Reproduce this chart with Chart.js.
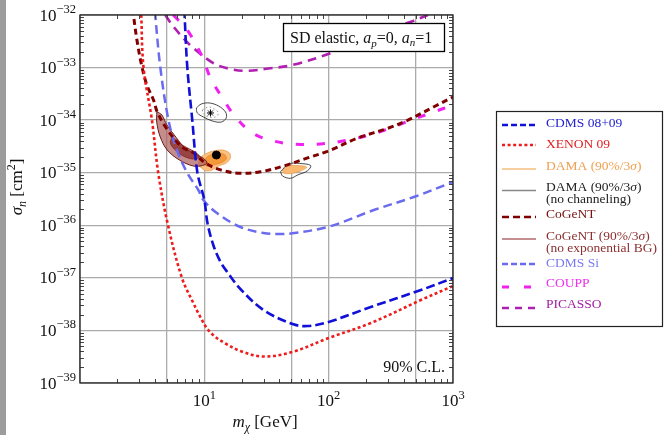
<!DOCTYPE html>
<html>
<head>
<meta charset="utf-8">
<script src="https://cdn.jsdelivr.net/npm/chart.js@4.4.1/dist/chart.umd.min.js"></script>
<style>
  html, body { margin: 0; padding: 0; background: #fff; }
  #wrap { position: relative; width: 665px; height: 435px; }
</style>
</head>
<body>
<div id="wrap"><canvas id="limits" width="665" height="435"></canvas></div>
<script>
// axes
const xGridVals = [1, 5, 10, 50, 100, 500, 1000];
const xLabelVals = [10, 100, 1000];
const yDecades = [-39, -38, -37, -36, -35, -34, -33, -32];

// exclusion limits: WIMP mass [GeV] -> sigma_n [cm^2]
const cdmsMass = [6.9, 7.29, 8.0, 8.78, 10.0, 10.6, 11.8, 13.5, 15.3, 19.5, 29.9, 51.3, 67.7, 100, 218, 552, 1000];
const cdmsSigma = [1.3e-32, 1.03e-33, 1.0e-34, 1.03e-35, 3.03e-36, 1.10e-36, 4.22e-37, 2.0e-37, 1.29e-37, 6.14e-38, 2.45e-38, 1.32e-38, 1.21e-38, 1.45e-38, 2.79e-38, 5.87e-38, 9.9e-38];

const xenonMass = [3.1, 3.24, 3.79, 4.26, 5.10, 6.61, 8.15, 9.29, 10.6, 12.3, 14.8, 19.5, 29.9, 51, 100, 218, 552, 1000];
const xenonSigma = [1.3e-32, 1.03e-33, 1.0e-34, 9.9e-36, 1.01e-36, 9.9e-38, 3.33e-38, 1.80e-38, 1.06e-38, 7.5e-39, 5.64e-39, 4.06e-39, 3.19e-39, 3.89e-39, 7.18e-39, 1.38e-38, 3.79e-38, 7.0e-38];

const cdmsSiMass = [4.0, 4.42, 5.15, 6.02, 7.29, 8.95, 9.82, 12.7, 19.5, 29.9, 39.5, 51, 100, 231, 484, 1000];
const cdmsSiSigma = [1.2e-32, 1.03e-33, 1.0e-34, 2.70e-35, 9.9e-36, 4.69e-36, 3.03e-36, 1.69e-36, 9.27e-37, 7.13e-37, 6.83e-37, 7.04e-37, 9.4e-37, 1.95e-36, 3.45e-36, 6.66e-36];

const cogentMass = [2.65, 2.87, 3.15, 3.45, 3.90, 4.18, 4.94, 5.84, 6.77, 8.0, 10.2, 13.5, 19.5, 28.3, 43.4, 67.7, 104, 171, 299, 434, 703, 1000];
const cogentSigma = [1.3e-32, 3.34e-33, 1.03e-33, 4.66e-34, 2.42e-34, 1.43e-34, 7.08e-35, 4.19e-35, 2.95e-35, 2.48e-35, 1.53e-35, 1.13e-35, 9.75e-36, 1.04e-35, 1.34e-35, 1.91e-35, 2.70e-35, 4.57e-35, 7.0e-35, 1.0e-34, 1.8e-34, 2.75e-34];

const couppMass = [5.62, 7.29, 9.64, 11.2, 14.0, 17.8, 24.4, 36.0, 55.2, 86.1, 130, 199, 299, 442, 665, 1000];
const couppSigma = [1.0e-32, 5.18e-33, 1.59e-33, 6.33e-34, 2.64e-34, 1.15e-34, 5.69e-35, 4.01e-35, 3.47e-35, 3.52e-35, 4.01e-35, 4.99e-35, 6.78e-35, 9.64e-35, 1.37e-34, 1.94e-34];

const picassoMass = [4.85, 5.52, 6.65, 8.0, 11.8, 16.2, 22.2, 34.1, 51.3, 104, 192, 459, 629];
const picassoSigma = [1.0e-32, 6.45e-33, 3.82e-33, 2.46e-33, 1.22e-33, 9.4e-34, 8.7e-34, 9.7e-34, 1.12e-33, 1.89e-33, 3.65e-33, 7.46e-33, 1.0e-32];

// allowed regions (closed contours)
const cogentOuterMass = [4.15, 4.56, 5.0, 5.94, 7.03, 8.73, 9.82, 10.5, 9.64, 8.15, 6.29, 5.03, 4.42, 4.14, 4.15];
const cogentOuterSigma = [1.45e-34, 1.25e-34, 8.09e-35, 4.68e-35, 2.91e-35, 2.17e-35, 1.88e-35, 1.53e-35, 1.37e-35, 1.34e-35, 1.75e-35, 2.70e-35, 4.78e-35, 9.2e-35, 1.45e-34];
const cogentInnerMass = [5.52, 6.65, 8.15, 9.12, 8.46, 7.03, 5.94, 5.32, 5.52];
const cogentInnerSigma = [4.78e-35, 3.37e-35, 2.59e-35, 2.08e-35, 1.82e-35, 1.99e-35, 2.59e-35, 3.67e-35, 4.78e-35];

const damaOuterMass = [8.95, 9.29, 10.2, 11.8, 14.0, 15.9, 16.2, 15.0, 13.0, 11.6, 10.4, 9.46, 8.95];
const damaOuterSigma = [1.47e-35, 1.91e-35, 2.27e-35, 2.59e-35, 2.70e-35, 2.37e-35, 1.91e-35, 1.53e-35, 1.34e-35, 1.13e-35, 1.08e-35, 1.23e-35, 1.47e-35];
const damaInnerMass = [9.82, 10.8, 12.5, 14.5, 15.0, 13.5, 11.6, 10.4, 9.82];
const damaInnerSigma = [1.67e-35, 2.08e-35, 2.37e-35, 2.22e-35, 1.82e-35, 1.53e-35, 1.40e-35, 1.34e-35, 1.67e-35];
const dama2Mass = [42.6, 47.6, 56.2, 66.5, 59.4, 49.4, 43.4, 42.6];
const dama2Sigma = [1.13e-35, 1.34e-35, 1.37e-35, 1.28e-35, 1.08e-35, 9.66e-36, 9.87e-36, 1.13e-35];

const damaNc1Mass = [8.62, 9.46, 11.0, 13.0, 14.8, 15.0, 13.7, 11.6, 9.82, 8.78, 8.62];
const damaNc1Sigma = [1.70e-34, 2.03e-34, 2.12e-34, 1.86e-34, 1.43e-34, 1.10e-34, 9.2e-35, 9.64e-35, 1.15e-34, 1.37e-34, 1.70e-34];
const damaNc1InMass = [9.64, 10.8, 12.0, 13.0, 12.3, 10.8, 9.82, 9.64];
const damaNc1InSigma = [1.56e-34, 1.78e-34, 1.63e-34, 1.37e-34, 1.15e-34, 1.15e-34, 1.31e-34, 1.56e-34];
const damaNc2Mass = [41.0, 47.6, 58.3, 71.6, 67.7, 56.2, 49.4, 42.6, 41.0];
const damaNc2Sigma = [1.04e-35, 1.47e-35, 1.50e-35, 1.37e-35, 1.09e-35, 9.04e-36, 7.83e-36, 8.65e-36, 1.04e-35];

// best fit points
const damaBestMass = [12.5];
const damaBestSigma = [2.17e-35];
const damaNcBestMass = [11.2];
const damaNcBestSigma = [1.37e-34];

const legendLabels = [
    ['CDMS 08+09'], ['XENON 09'], ['DAMA (90%/3σ)'], ['DAMA (90%/3σ)', '(no channeling)'],
    ['CoGeNT'], ['CoGeNT (90%/3σ)', '(no exponential BG)'], ['CDMS Si'], ['COUPP'], ['PICASSO']
];

const SERIF = '"Liberation Serif", "Times New Roman", serif';
const pts = (xs, ys) => xs.map((x, i) => ({ x: x, y: ys[i] }));

function curve(label, xs, ys, color, width, dash) {
    return { label: label, data: pts(xs, ys), borderColor: color, borderWidth: width, borderDash: dash,
        borderCapStyle: 'butt', pointRadius: 0, tension: 0.35, fill: false, order: 1 };
}
function region(label, xs, ys, fillColor, lineColor, width, dash, order) {
    return { label: label, data: pts(xs, ys), backgroundColor: fillColor || 'transparent', borderColor: lineColor,
        borderWidth: width, borderDash: dash || [], pointRadius: 0, tension: 0.35,
        fill: fillColor ? 'shape' : false, order: order };
}

// draws a run of text pieces (for italics, sub/superscripts)
function drawRuns(c, parts, x, y, align) {
    let w = 0;
    parts.forEach(p => { c.font = p.f + ' ' + SERIF; p.w = c.measureText(p.t).width; w += p.w; });
    let cx = align === 'center' ? x - w / 2 : (align === 'right' ? x - w : x);
    c.textAlign = 'left';
    c.textBaseline = 'alphabetic';
    parts.forEach(p => {
        c.font = p.f + ' ' + SERIF;
        c.fillText(p.t, cx, y + (p.dy || 0));
        cx += p.w;
    });
}

const legendStyle = [
    { y: 125, ty: [122], text: '#2222d0', stroke: '#1010d8', w: 2.6, dash: [6, 3] },
    { y: 145, ty: [143], text: '#e02020', stroke: '#ee1c1c', w: 2.6, dash: [3, 2.6] },
    { y: 169, ty: [165], text: '#f0a050', stroke: '#f0a040', w: 1.2, dash: [] },
    { y: 190.5, ty: [186.5, 198], text: '#222222', stroke: '#888888', w: 1.4, dash: [] },
    { y: 217, ty: [213], text: '#7a1010', stroke: '#800000', w: 2.6, dash: [7, 4] },
    { y: 239, ty: [235, 247], text: '#8b3030', stroke: '#8b2020', w: 1.2, dash: [] },
    { y: 264, ty: [262], text: '#7a7aee', stroke: '#6b6bef', w: 2.6, dash: [6, 3] },
    { y: 287, ty: [282], text: '#ee30ee', stroke: '#f020f0', w: 2.8, dash: [7, 15] },
    { y: 308, ty: [303.5], text: '#a020a0', stroke: '#b020b0', w: 2.6, dash: [7, 6] }
];

const decor = {
    id: 'decor',
    beforeDraw(chart) {
        const c = chart.ctx;
        c.save();
        c.fillStyle = '#ffffff';
        c.fillRect(0, 0, chart.width, chart.height);
        c.fillStyle = '#9c9c9c';
        c.fillRect(0, 0, 6, chart.height);
        c.restore();
    },
    afterDatasetsDraw(chart) {
        const c = chart.ctx, a = chart.chartArea, xs = chart.scales.x, ys = chart.scales.y;
        c.save();
        // minor ticks, pointing inwards
        c.strokeStyle = '#444';
        c.lineWidth = 1;
        c.beginPath();
        [1, 10, 100].forEach(d => {
            for (let m = 2; m <= 9; m++) {
                const px = Math.round(xs.getPixelForValue(m * d)) + 0.5;
                c.moveTo(px, a.bottom); c.lineTo(px, a.bottom - 4);
                c.moveTo(px, a.top); c.lineTo(px, a.top + 4);
            }
        });
        yDecades.slice(0, -1).forEach(k => {
            for (let m = 2; m <= 9; m++) {
                const py = Math.round(ys.getPixelForValue(m * Math.pow(10, k))) + 0.5;
                c.moveTo(a.left, py); c.lineTo(a.left + 4, py);
                c.moveTo(a.right, py); c.lineTo(a.right - 4, py);
            }
        });
        c.stroke();
        // frame
        c.strokeStyle = '#222';
        c.lineWidth = 1.3;
        c.strokeRect(a.left, a.top, a.right - a.left, a.bottom - a.top);

        // label box
        c.fillStyle = '#fff';
        c.fillRect(283.5, 23.5, 161, 28);
        c.strokeStyle = '#000';
        c.lineWidth = 1.3;
        c.strokeRect(283.5, 23.5, 161, 28);
        c.fillStyle = '#111';
        drawRuns(c, [
            { t: 'SD elastic, ', f: '16px' }, { t: 'a', f: 'italic 16px' }, { t: 'p', f: 'italic 11px', dy: 4 },
            { t: '=0, ', f: '16px' }, { t: 'a', f: 'italic 16px' }, { t: 'n', f: 'italic 11px', dy: 3 },
            { t: '=1', f: '16px' }
        ], 290, 42.5, 'left');
        drawRuns(c, [{ t: '90% C.L.', f: '16px' }], 445, 372, 'right');
        c.restore();
    },
    afterDraw(chart) {
        const c = chart.ctx, xs = chart.scales.x, ys = chart.scales.y;
        c.save();
        c.fillStyle = '#111';
        // tick labels
        yDecades.forEach(k => {
            const py = ys.getPixelForValue(Math.pow(10, k));
            drawRuns(c, [{ t: '10', f: '17px' }, { t: '\u2212' + Math.abs(k), f: '12.5px', dy: -7.5 }], 76, py + 5.5, 'right');
        });
        xLabelVals.forEach(v => {
            const px = xs.getPixelForValue(v);
            drawRuns(c, [{ t: '10', f: '17px' }, { t: String(Math.round(Math.log10(v))), f: '12.5px', dy: -7.5 }], px, 406, 'center');
        });
        // axis titles
        drawRuns(c, [{ t: 'm', f: 'italic 17px' }, { t: 'χ', f: 'italic 12px', dy: 4 }, { t: ' [GeV]', f: '17px' }], 265, 427, 'center');
        c.save();
        c.translate(22, 187);
        c.rotate(-Math.PI / 2);
        drawRuns(c, [{ t: 'σ', f: 'italic 17px' }, { t: 'n', f: 'italic 12px', dy: 4 }, { t: ' [cm', f: '17px' },
            { t: '2', f: '12px', dy: -7 }, { t: ']', f: '17px' }], 0, 0, 'center');
        c.restore();

        // legend
        c.fillStyle = '#fff';
        c.fillRect(496.5, 111.5, 166, 215);
        c.strokeStyle = '#222';
        c.lineWidth = 1.2;
        c.strokeRect(496.5, 111.5, 166, 215);
        legendStyle.forEach((s, i) => {
            c.strokeStyle = s.stroke;
            c.lineWidth = s.w;
            c.setLineDash(s.dash);
            c.beginPath();
            c.moveTo(502, s.y); c.lineTo(536, s.y);
            c.stroke();
            c.setLineDash([]);
            c.fillStyle = s.text;
            legendLabels[i].forEach((line, j) => {
                const parts = [];
                line.split('σ').forEach((chunk, n) => {
                    if (n > 0) parts.push({ t: 'σ', f: 'italic 13.5px' });
                    if (chunk) parts.push({ t: chunk, f: '13.5px' });
                });
                drawRuns(c, parts, 546, s.ty[j] + 4.5, 'left');
            });
        });
        c.restore();
    }
};

const ctx = document.getElementById('limits').getContext('2d');
new Chart(ctx, {
    type: 'line',
    data: {
        datasets: [
            curve('CDMS 08+09', cdmsMass, cdmsSigma, '#1010d8', 2.6, [9, 4]),
            curve('XENON 09', xenonMass, xenonSigma, '#ee1c1c', 2.6, [3, 2.6]),
            curve('CoGeNT', cogentMass, cogentSigma, '#800000', 3, [6, 4]),
            curve('CDMS Si', cdmsSiMass, cdmsSiSigma, '#6b6bef', 2.5, [9, 5]),
            curve('COUPP', couppMass, couppSigma, '#f020f0', 3, [8, 13]),
            curve('PICASSO', picassoMass, picassoSigma, '#b020b0', 2.6, [9, 6]),
            { label: 'DAMA best fit', data: pts(damaBestMass, damaBestSigma), showLine: false, pointRadius: 4,
              pointBackgroundColor: '#000', pointBorderColor: '#000', order: 0 },
            { label: 'DAMA nc best fit', data: pts(damaNcBestMass, damaNcBestSigma), showLine: false, pointRadius: 3.5,
              pointStyle: 'star', pointBorderColor: '#000', pointBorderWidth: 1, order: 0 },
            region('CoGeNT 90%', cogentInnerMass, cogentInnerSigma, 'rgba(135,35,35,0.7)', '#7a2020', 0.7, null, 4),
            region('CoGeNT 3σ', cogentOuterMass, cogentOuterSigma, 'rgba(175,95,95,0.72)', '#6a1a1a', 1, null, 5),
            region('DAMA 90%', damaInnerMass, damaInnerSigma, '#f59a3a', '#e08a30', 0.8, null, 6),
            region('DAMA 3σ', damaOuterMass, damaOuterSigma, '#fbc080', '#e8a050', 0.8, null, 7),
            region('DAMA 3σ b', dama2Mass, dama2Sigma, '#fbb870', '#e8a050', 0.8, null, 7),
            region('DAMA nc', damaNc1Mass, damaNc1Sigma, null, '#333', 0.9, null, 3),
            region('DAMA nc inner', damaNc1InMass, damaNc1InSigma, null, '#555', 0.6, [1.5, 2.5], 3),
            region('DAMA nc b', damaNc2Mass, damaNc2Sigma, null, '#333', 0.9, null, 3)
        ]
    },
    options: {
        responsive: false,
        animation: false,
        events: [],
        layout: { padding: { top: 15, right: 212, left: 0, bottom: 0 } },
        elements: { line: { capBezierPoints: false } },
        plugins: { legend: { display: false }, tooltip: { enabled: false } },
        scales: {
            x: {
                type: 'logarithmic', min: 1, max: 1000,
                afterBuildTicks: s => { s.ticks = xGridVals.map(v => ({ value: v })); },
                afterFit: s => { s.height = 52; },
                ticks: { display: false },
                grid: { color: '#ababab', lineWidth: 1.3, drawTicks: false },
                border: { display: false }
            },
            y: {
                type: 'logarithmic', min: 1e-39, max: 1e-32,
                afterBuildTicks: s => { s.ticks = yDecades.map(k => ({ value: Math.pow(10, k) })); },
                afterFit: s => { s.width = 80; },
                ticks: { display: false },
                grid: { color: '#ababab', lineWidth: 1.3, drawTicks: false },
                border: { display: false }
            }
        }
    },
    plugins: [decor]
});
</script>
</body>
</html>
